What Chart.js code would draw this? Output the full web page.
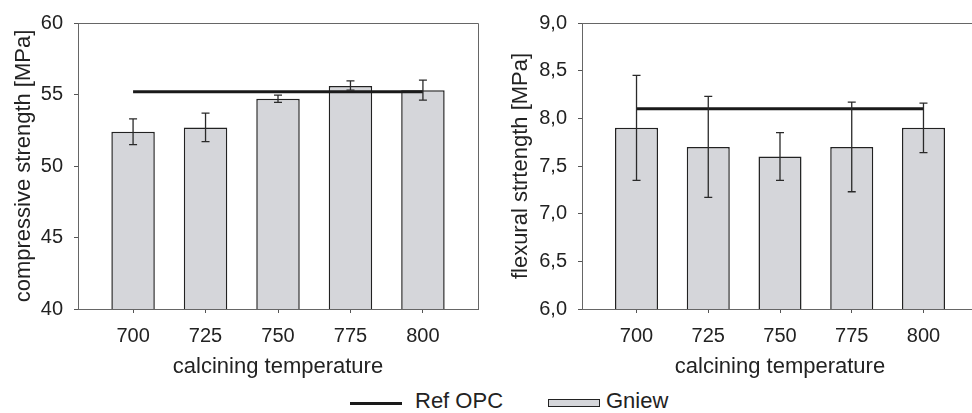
<!DOCTYPE html>
<html>
<head>
<meta charset="utf-8">
<script src="https://cdn.jsdelivr.net/npm/chart.js@4.4.1/dist/chart.umd.min.js"></script>
<style>
  html, body { margin: 0; padding: 0; background: #fff; overflow: hidden; width: 972px; height: 413px; }
  #left { position: absolute; left: 0; top: 0; }
  #right { position: absolute; left: 490px; top: 0; }
  .lg { position: absolute; font-family: "Liberation Sans", Arial, sans-serif; font-size: 22px; color: #222; line-height: 1; }
  .sw-line { position: absolute; left: 350px; top: 402px; width: 52px; height: 3px; background: #1a1a1a; }
  .sw-box { position: absolute; left: 548px; top: 399px; width: 50px; height: 6px; background: #d5d6da; border: 1px solid #222; }
</style>
</head>
<body>
<canvas id="left" width="490" height="385"></canvas>
<canvas id="right" width="500" height="385"></canvas>
<div class="sw-line"></div>
<div class="lg" style="left:415px; top:390px;">Ref OPC</div>
<div class="sw-box"></div>
<div class="lg" style="left:606px; top:390px;">Gniew</div>
<script>
// calcining temperatures
var temps = [700, 725, 750, 775, 800];

// compressive strength [MPa]
var compMean = [52.4, 52.7, 54.7, 55.6, 55.3];
var compLow  = [51.5, 51.7, 54.45, 55.3, 54.6];
var compHigh = [53.3, 53.7, 54.95, 55.95, 56.0];
var compRef  = 55.2;

// flexural strength [MPa]
var flexMean = [7.9, 7.7, 7.6, 7.7, 7.9];
var flexLow  = [7.35, 7.17, 7.35, 7.23, 7.64];
var flexHigh = [8.45, 8.23, 7.85, 8.17, 8.16];
var flexRef  = 8.1;

var compTicks = [40, 45, 50, 55, 60];
var flexTicks = [6.0, 6.5, 7.0, 7.5, 8.0, 8.5, 9.0];

var FONT = "'Liberation Sans', Arial, sans-serif";
var TXT = "#222";

// frame around chart area + error bars
var framePlugin = {
  id: 'frame',
  afterDatasetsDraw: function( chart ){
    let ctx = chart.ctx;
    let a = chart.chartArea;
    let ys = chart.scales.y;
    let meta = chart.getDatasetMeta(0);
    let lo = chart.options.plugins.frame.lo;
    let hi = chart.options.plugins.frame.hi;
    ctx.save();
    ctx.strokeStyle = "#2a2a2a";
    ctx.lineWidth = 1.3;
    for( let i = 0 ; i < meta.data.length ; i++ ){
      let x = meta.data[i].x;
      let y1 = ys.getPixelForValue( lo[i] );
      let y2 = ys.getPixelForValue( hi[i] );
      ctx.beginPath();
      ctx.moveTo( x, y1 ); ctx.lineTo( x, y2 );
      ctx.moveTo( x - 4, y1 ); ctx.lineTo( x + 4, y1 );
      ctx.moveTo( x - 4, y2 ); ctx.lineTo( x + 4, y2 );
      ctx.stroke();
    }
    ctx.strokeStyle = "#666";
    ctx.lineWidth = 1;
    ctx.beginPath();
    ctx.moveTo( a.left, a.top + 0.5 ); ctx.lineTo( a.right + 0.5, a.top + 0.5 );
    ctx.lineTo( a.right + 0.5, a.bottom );
    ctx.stroke();
    ctx.restore();
  }
};

function makeConfig( means, lo, hi, ref, yTicks, yTitle, yw, titlePad, decimals ){
  let bars = temps.map( (t, i) => ({ x: t, y: means[i] }) );
  let line = [ { x: temps[0], y: ref }, { x: temps[temps.length - 1], y: ref } ];
  return {
    type: 'bar',
    data: {
      datasets: [
        {
          label: 'Gniew',
          data: bars,
          backgroundColor: "#d5d6da",
          borderColor: "#222",
          borderWidth: 1.5,
          barPercentage: 0.6,
          categoryPercentage: 1,
          order: 2
        },
        {
          label: 'Ref OPC',
          type: 'line',
          data: line,
          borderColor: "#1a1a1a",
          borderWidth: 3,
          pointRadius: 0,
          fill: false,
          order: 1
        }
      ]
    },
    options: {
      responsive: false,
      animation: false,
      layout: { padding: { top: 22, right: 12, left: 0, bottom: 0 } },
      plugins: {
        legend: { display: false },
        tooltip: { enabled: false },
        frame: { lo: lo, hi: hi }
      },
      scales: {
        x: {
          type: 'linear',
          min: 681,
          max: 819,
          offset: false,
          afterBuildTicks: function( axis ){ axis.ticks = temps.map( v => ({ value: v }) ); },
          afterFit: function( axis ){ axis.height = 76; },
          grid: { offset: false, drawOnChartArea: false, drawTicks: true, tickLength: 4, tickColor: "#555" },
          border: { display: true, color: "#666", width: 1 },
          ticks: { color: TXT, font: { family: FONT, size: 20 }, padding: 11 },
          title: { display: true, text: 'calcining temperature', color: TXT,
                   font: { family: FONT, size: 22 }, padding: { top: 0, bottom: 5 } }
        },
        y: {
          min: yTicks[0],
          max: yTicks[yTicks.length - 1],
          afterBuildTicks: function( axis ){ axis.ticks = yTicks.map( v => ({ value: v }) ); },
          afterFit: function( axis ){ axis.width = yw; },
          grid: { drawOnChartArea: false, drawTicks: true, tickLength: 4, tickColor: "#555" },
          border: { display: true, color: "#666", width: 1 },
          ticks: {
            color: TXT, font: { family: FONT, size: 20 }, padding: 11,
            callback: function( v ){ return decimals ? v.toFixed(1).replace('.', ',') : String(v); }
          },
          title: { display: true, text: yTitle, color: TXT,
                   font: { family: FONT, size: 22 }, padding: { top: titlePad, bottom: 0 } }
        }
      }
    },
    plugins: [ framePlugin ]
  };
}

window.addEventListener("load", () => {
  new Chart( document.getElementById("left").getContext("2d"),
    makeConfig( compMean, compLow, compHigh, compRef, compTicks, 'compressive strength [MPa]', 78, 11, false ) );
  new Chart( document.getElementById("right").getContext("2d"),
    makeConfig( flexMean, flexLow, flexHigh, flexRef, flexTicks, 'flexural strtength [MPa]', 92, 18, true ) );
});
</script>
</body>
</html>
